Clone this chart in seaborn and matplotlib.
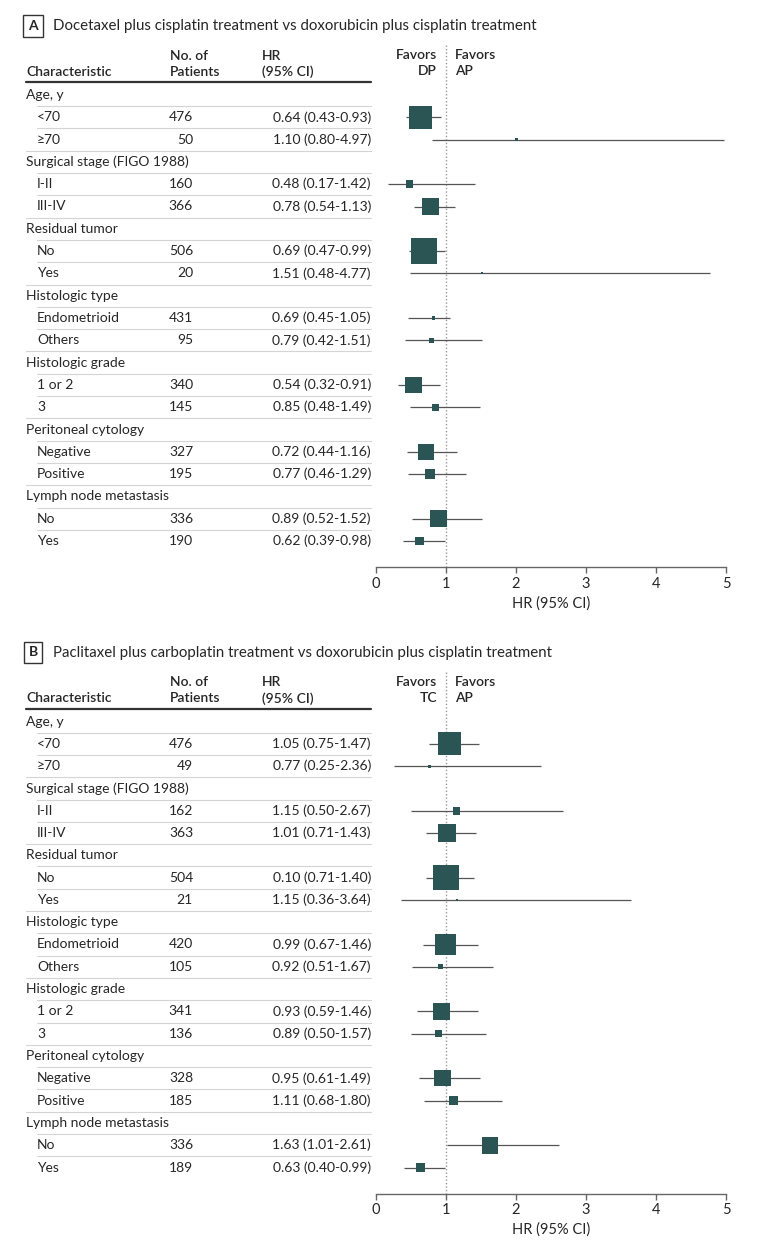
import pandas as pd
import seaborn as sns
import matplotlib.pyplot as plt
import matplotlib.transforms as mtransforms
from matplotlib.lines import Line2D

sns.set_theme(style="white")
plt.rcParams['font.family'] = ['Lato', 'DejaVu Sans']

# Subgroups shared by both panels
groups = ["Age, y", "Surgical stage (FIGO 1988)", "Residual tumor", "Histologic type",
          "Histologic grade", "Peritoneal cytology", "Lymph node metastasis"]
subgroups = [["<70", "≥70"], ["I-II", "III-IV"], ["No", "Yes"], ["Endometrioid", "Others"],
             ["1 or 2", "3"], ["Negative", "Positive"], ["No", "Yes"]]

# Panel A: DP vs AP
n_a = [476, 50, 160, 366, 506, 20, 431, 95, 340, 145, 327, 195, 336, 190]
txt_a = ["0.64 (0.43-0.93)", "1.10 (0.80-4.97)", "0.48 (0.17-1.42)", "0.78 (0.54-1.13)",
         "0.69 (0.47-0.99)", "1.51 (0.48-4.77)", "0.69 (0.45-1.05)", "0.79 (0.42-1.51)",
         "0.54 (0.32-0.91)", "0.85 (0.48-1.49)", "0.72 (0.44-1.16)", "0.77 (0.46-1.29)",
         "0.89 (0.52-1.52)", "0.62 (0.39-0.98)"]
hr_a = [0.64, 2.00, 0.48, 0.78, 0.69, 1.51, 0.82, 0.79, 0.54, 0.85, 0.72, 0.77, 0.89, 0.62]
lo_a = [0.43, 0.80, 0.17, 0.54, 0.47, 0.48, 0.45, 0.42, 0.32, 0.48, 0.44, 0.46, 0.52, 0.39]
hi_a = [0.93, 4.97, 1.42, 1.13, 0.99, 4.77, 1.05, 1.51, 0.91, 1.49, 1.16, 1.29, 1.52, 0.98]
wt_a = [5.3, 0.09, 0.6, 3.1, 6.6, 0.04, 0.11, 0.25, 2.8, 0.45, 2.6, 0.86, 2.9, 0.76]

# Panel B: TC vs AP
n_b = [476, 49, 162, 363, 504, 21, 420, 105, 341, 136, 328, 185, 336, 189]
txt_b = ["1.05 (0.75-1.47)", "0.77 (0.25-2.36)", "1.15 (0.50-2.67)", "1.01 (0.71-1.43)",
         "0.10 (0.71-1.40)", "1.15 (0.36-3.64)", "0.99 (0.67-1.46)", "0.92 (0.51-1.67)",
         "0.93 (0.59-1.46)", "0.89 (0.50-1.57)", "0.95 (0.61-1.49)", "1.11 (0.68-1.80)",
         "1.63 (1.01-2.61)", "0.63 (0.40-0.99)"]
hr_b = [1.05, 0.77, 1.15, 1.01, 1.00, 1.15, 0.99, 0.92, 0.93, 0.89, 0.95, 1.11, 1.63, 0.63]
lo_b = [0.75, 0.25, 0.50, 0.71, 0.71, 0.36, 0.67, 0.51, 0.59, 0.50, 0.61, 0.68, 1.01, 0.40]
hi_b = [1.47, 2.36, 2.67, 1.43, 1.40, 3.64, 1.46, 1.67, 1.46, 1.57, 1.49, 1.80, 2.61, 0.99]
wt_b = [5.3, 0.09, 0.6, 3.2, 6.6, 0.04, 4.5, 0.22, 2.9, 0.45, 2.6, 0.81, 2.8, 0.81]

W, H = 780, 1247
BOX = "#2b5554"
FS = 10

fig = plt.figure(figsize=(W / 100, H / 100), dpi=100)


def fx(px):
    return px / W


def fy(py):
    return 1 - py / H


def panel(off, letter, title, left_lbl, n, txt, hr, lo, hi, wt):
    row0, step = 95, 22.3
    top, bot = 84, 567
    ax = fig.add_axes([fx(376), fy(bot + off), fx(726) - fx(376), (bot - top) / H])
    ax.set_xlim(0, 5)
    ax.set_ylim((bot - row0) / step, (top - row0) / step)

    def r(py):
        return (py - row0) / step

    # row layout
    labels, is_grp = [], []
    for g, subs in zip(groups, subgroups):
        labels.append(g)
        is_grp.append(True)
        for s in subs:
            labels.append(s)
            is_grp.append(False)
    sub_rows = [i for i, g in enumerate(is_grp) if not g]

    df = pd.DataFrame({"row": sub_rows, "hr": hr, "lo": lo, "hi": hi, "wt": wt})

    # CI lines and markers
    ax.hlines(df["row"], df["lo"], df["hi"], color="#555555", lw=0.9, zorder=2)
    sns.scatterplot(data=df, x="hr", y="row", size="wt", sizes=(0, 518.4), size_norm=(0, 10),
                    marker="s", color=BOX, linewidth=0, legend=False, ax=ax, zorder=3)
    ax.plot([1, 1], [r(45), r(bot)], color="#999999", lw=1, ls=(0, (1, 1.5)),
            clip_on=False, zorder=1)

    # axis styling
    for sp in ["left", "top", "right"]:
        ax.spines[sp].set_visible(False)
    ax.spines["bottom"].set_color("#666666")
    ax.spines["bottom"].set_linewidth(1)
    ax.set_xticks(range(6))
    ax.set_yticks([])
    ax.tick_params(axis="x", direction="out", length=4, color="#666666", width=1,
                   labelsize=FS + 0.5, pad=3, bottom=True)
    ax.set_xlabel("HR (95% CI)", fontsize=FS + 0.5, labelpad=4)
    ax.set_ylabel("")

    tr = mtransforms.blended_transform_factory(fig.transFigure, ax.transData)

    # table text
    for i, (lab, g) in enumerate(zip(labels, is_grp)):
        ax.text(fx(26 if g else 37), i, lab, transform=tr, ha="left", va="center",
                fontsize=FS, clip_on=False)
    for k, i in enumerate(sub_rows):
        ax.text(fx(193), i, str(n[k]), transform=tr, ha="right", va="center", fontsize=FS)
        ax.text(fx(371), i, txt[k], transform=tr, ha="right", va="center", fontsize=FS)

    # row separators
    for i in range(len(labels) - 1):
        x0 = 26 if is_grp[i + 1] else 37
        ax.add_line(Line2D([fx(x0), fx(371)], [i + 0.5, i + 0.5], transform=tr,
                           color="#d4d4d4", lw=0.8, clip_on=False))
    ax.add_line(Line2D([fx(26), fx(371)], [r(82), r(82)], transform=tr,
                       color="#333333", lw=1.6, clip_on=False))

    # headers
    hd = dict(fontsize=FS, fontweight="semibold", va="center")
    fig.text(fx(26), fy(72 + off), "Characteristic", ha="left", **hd)
    fig.text(fx(170), fy(56 + off), "No. of", ha="left", **hd)
    fig.text(fx(170), fy(72 + off), "Patients", ha="left", **hd)
    fig.text(fx(262), fy(56 + off), "HR", ha="left", **hd)
    fig.text(fx(262), fy(72 + off), "(95% CI)", ha="left", **hd)
    fig.text(fx(437), fy(55 + off), "Favors", ha="right", **hd)
    fig.text(fx(437), fy(71 + off), left_lbl, ha="right", **hd)
    fig.text(fx(455), fy(55 + off), "Favors", ha="left", **hd)
    fig.text(fx(455), fy(71 + off), "AP", ha="left", **hd)

    # panel title
    fig.text(fx(33), fy(26 + off), letter, ha="center", va="center", fontsize=FS,
             fontweight="bold",
             bbox=dict(boxstyle="square,pad=0.35", fc="white", ec="#333333", lw=1))
    fig.text(fx(53), fy(26 + off), title, ha="left", va="center", fontsize=FS + 0.8)
    return ax


panel(0, "A", "Docetaxel plus cisplatin treatment vs doxorubicin plus cisplatin treatment",
      "DP", n_a, txt_a, hr_a, lo_a, hi_a, wt_a)
panel(626.5, "B", "Paclitaxel plus carboplatin treatment vs doxorubicin plus cisplatin treatment",
      "TC", n_b, txt_b, hr_b, lo_b, hi_b, wt_b)

fig.savefig("out.png", dpi=100, facecolor="white")
